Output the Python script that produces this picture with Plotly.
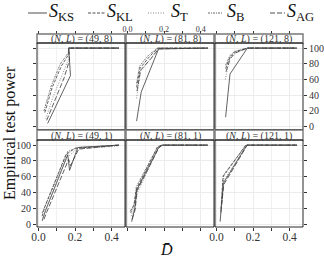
import plotly.graph_objects as go

# ---------------- data ----------------
panel_labels = ["(49, 8)", "(81, 8)", "(121, 8)", "(49, 1)", "(81, 1)", "(121, 1)"]
methods = ["KS", "KL", "T", "B", "AG"]

# (N,L) = (49,8)
KS_x_49_8 = [0.05, 0.175, 0.165, 0.44]
KS_y_49_8 = [4, 65, 100, 100]
KL_x_49_8 = [0.035, 0.075, 0.125, 0.165, 0.165, 0.44]
KL_y_49_8 = [18, 50, 77, 92, 100, 100]
T_x_49_8 = [0.04, 0.08, 0.13, 0.168, 0.165, 0.44]
T_y_49_8 = [10, 38, 66, 88, 100, 100]
B_x_49_8 = [0.03, 0.07, 0.12, 0.163, 0.165, 0.44]
B_y_49_8 = [20, 52, 80, 94, 100, 100]
AG_x_49_8 = [0.045, 0.09, 0.14, 0.17, 0.165, 0.44]
AG_y_49_8 = [8, 34, 62, 85, 100, 100]

# (N,L) = (81,8)
KS_x_81_8 = [0.05, 0.075, 0.17, 0.44]
KS_y_81_8 = [7, 44, 99, 100]
KL_x_81_8 = [0.05, 0.068, 0.12, 0.165, 0.44]
KL_y_81_8 = [50, 74, 89, 100, 100]
T_x_81_8 = [0.05, 0.07, 0.125, 0.168, 0.44]
T_y_81_8 = [36, 70, 86, 100, 100]
B_x_81_8 = [0.05, 0.066, 0.115, 0.165, 0.44]
B_y_81_8 = [55, 77, 91, 100, 100]
AG_x_81_8 = [0.052, 0.072, 0.13, 0.17, 0.44]
AG_y_81_8 = [45, 72, 87, 99, 100]

# (N,L) = (121,8)
KS_x_121_8 = [0.05, 0.074, 0.169, 0.44]
KS_y_121_8 = [12, 67, 100, 100]
KL_x_121_8 = [0.05, 0.074, 0.1, 0.169, 0.44]
KL_y_121_8 = [74, 89, 95, 100, 100]
T_x_121_8 = [0.048, 0.07, 0.095, 0.169, 0.44]
T_y_121_8 = [60, 85, 93, 100, 100]
B_x_121_8 = [0.05, 0.072, 0.1, 0.169, 0.44]
B_y_121_8 = [78, 90, 96, 100, 100]
AG_x_121_8 = [0.052, 0.076, 0.105, 0.169, 0.44]
AG_y_121_8 = [70, 87, 94, 100, 100]

# (N,L) = (49,1)
KS_x_49_1 = [0.02, 0.04, 0.16, 0.17, 0.215, 0.44]
KS_y_49_1 = [4, 18, 88, 68, 97, 100]
KL_x_49_1 = [0.02, 0.035, 0.15, 0.2, 0.44]
KL_y_49_1 = [10, 22, 88, 96, 100]
T_x_49_1 = [0.025, 0.04, 0.155, 0.21, 0.44]
T_y_49_1 = [8, 18, 84, 95, 99]
B_x_49_1 = [0.02, 0.035, 0.16, 0.215, 0.44]
B_y_49_1 = [14, 22, 92, 97, 100]
AG_x_49_1 = [0.03, 0.045, 0.165, 0.175, 0.22, 0.44]
AG_y_49_1 = [6, 15, 82, 74, 95, 100]

# (N,L) = (81,1)
KS_x_81_1 = [0.023, 0.04, 0.05, 0.17, 0.19, 0.44]
KS_y_81_1 = [3, 20, 43, 97, 100, 100]
KL_x_81_1 = [0.015, 0.035, 0.05, 0.165, 0.19, 0.44]
KL_y_81_1 = [16, 24, 45, 98, 100, 100]
T_x_81_1 = [0.02, 0.04, 0.055, 0.168, 0.19, 0.44]
T_y_81_1 = [10, 22, 40, 96, 100, 100]
B_x_81_1 = [0.018, 0.038, 0.048, 0.165, 0.19, 0.44]
B_y_81_1 = [14, 26, 47, 98, 100, 100]
AG_x_81_1 = [0.025, 0.042, 0.052, 0.17, 0.19, 0.44]
AG_y_81_1 = [6, 18, 42, 96, 100, 100]

# (N,L) = (121,1)
KS_x_121_1 = [0.02, 0.038, 0.166, 0.44]
KS_y_121_1 = [3, 52, 100, 100]
KL_x_121_1 = [0.025, 0.036, 0.16, 0.44]
KL_y_121_1 = [20, 60, 100, 100]
T_x_121_1 = [0.022, 0.04, 0.165, 0.44]
T_y_121_1 = [10, 55, 100, 100]
B_x_121_1 = [0.028, 0.038, 0.162, 0.44]
B_y_121_1 = [28, 62, 100, 100]
AG_x_121_1 = [0.024, 0.04, 0.168, 0.44]
AG_y_121_1 = [15, 50, 100, 100]

x_tickvals = [0.0, 0.2, 0.4]
x_ticktext = ["0.0", "0.2", "0.4"]
y_tickvals = [0, 20, 40, 60, 80, 100]
y_ticktext = ["0", "20", "40", "60", "80", "100"]

# ---------------- build table ----------------
g = globals()
panel_keys = ["49_8", "81_8", "121_8", "49_1", "81_1", "121_1"]
series = {}
for pk in panel_keys:
    for m in methods:
        series[(pk, m)] = (g[f"{m}_x_{pk}"], g[f"{m}_y_{pk}"])

styles = {
    "KS": dict(dash="solid", color="#3a3a3a", width=0.8),
    "KL": dict(dash="3px,1.5px", color="#3a3a3a", width=0.8),
    "T": dict(dash="1px,1.5px", color="#7a7a7a", width=0.8),
    "B": dict(dash="2px,1px,1px,1px", color="#555555", width=0.8),
    "AG": dict(dash="5px,2px", color="#3a3a3a", width=0.8),
}
leg_labels = {
    "KS": "<i>S</i><sub>KS</sub>",
    "KL": "<i>S</i><sub>KL</sub>",
    "T": "<i>S</i><sub>T</sub>",
    "B": "<i>S</i><sub>B</sub>",
    "AG": "<i>S</i><sub>AG</sub>",
}

W, H = 324, 258
FONT = "Liberation Serif, DejaVu Serif, serif"


def fx(px):
    return px / W


def fy(py):
    return 1 - py / H


cols = [(37, 125), (126, 214), (215, 303)]
rows = [(43, 129.5), (140, 227)]
strips = [(34, 43), (130, 140)]
xr = [-0.008, 0.473]
yr = [-3.7, 106.5]

fig = go.Figure()
layout = dict(
    width=W, height=H,
    margin=dict(l=0, r=0, t=0, b=0, autoexpand=False),
    paper_bgcolor="white", plot_bgcolor="white",
    showlegend=False,
    font=dict(family=FONT, color="#222"),
)
shapes = []
annotations = []

for k, pk in enumerate(panel_keys):
    r, c = divmod(k, 3)
    ax = k + 1
    xa = "x" if ax == 1 else f"x{ax}"
    ya = "y" if ax == 1 else f"y{ax}"
    for m in methods:
        xs, ys = series[(pk, m)]
        st = styles[m]
        fig.add_trace(go.Scatter(
            x=xs, y=ys, mode="lines", xaxis=xa, yaxis=ya, name=m,
            line=dict(color=st["color"], width=st["width"], dash=st["dash"]),
            hoverinfo="skip",
        ))
    x0, x1 = cols[c]
    y0, y1 = rows[r]
    xaxis = dict(
        domain=[fx(x0), fx(x1)], range=xr,
        tickvals=x_tickvals, ticktext=x_ticktext,
        showgrid=True, gridcolor="#ececec", gridwidth=0.6,
        zeroline=False, showline=False, automargin=False,
        ticks="outside", ticklen=3, tickwidth=0.6, tickcolor="#333",
        minor=dict(dtick=0.1, tick0=0, ticks="outside", ticklen=3, tickwidth=0.6,
                   tickcolor="#333", showgrid=True, gridcolor="#f1f1f1", gridwidth=0.5),
    )
    if r == 0:
        xaxis.update(side="top", anchor="free", position=fy(34),
                     showticklabels=(c == 1), ticklabelstandoff=-4,
                     tickfont=dict(family=FONT, size=8, color="#333"))
    else:
        xaxis.update(side="bottom", anchor=ya, showticklabels=(c != 1),
                     ticklabelstandoff=-4,
                     tickfont=dict(family=FONT, size=11.5, color="#333"))
    yaxis = dict(
        domain=[fy(y1), fy(y0)], range=yr, anchor=xa,
        tickvals=y_tickvals, ticktext=y_ticktext,
        showgrid=True, gridcolor="#ececec", gridwidth=0.6,
        zeroline=False, showline=False, automargin=False,
        tickfont=dict(family=FONT, size=10, color="#333"),
    )
    if c == 0:
        yaxis.update(side="left", ticks="outside", ticklen=3, tickwidth=0.6,
                     tickcolor="#333", showticklabels=(r == 1))
    elif c == 2:
        yaxis.update(side="right", ticks="outside", ticklen=3, tickwidth=0.6,
                     tickcolor="#333", showticklabels=(r == 0))
    else:
        yaxis.update(ticks="", showticklabels=False)
    layout["xaxis" if ax == 1 else f"xaxis{ax}"] = xaxis
    layout["yaxis" if ax == 1 else f"yaxis{ax}"] = yaxis

    # strip
    s0, s1 = strips[r]
    shapes.append(dict(type="rect", xref="paper", yref="paper",
                       x0=fx(x0), x1=fx(x1), y0=fy(s1), y1=fy(s0),
                       fillcolor="white", line=dict(color="#777", width=1.4),
                       layer="above"))
    nl = panel_labels[k]
    annotations.append(dict(
        xref="paper", yref="paper", x=fx((x0 + x1) / 2), y=fy((s0 + s1) / 2 + 0.5),
        text=f"(<i>N</i>, <i>L</i>) = {nl}", showarrow=False,
        xanchor="center", yanchor="middle",
        font=dict(family=FONT, size=10, color="#333333")))
    # panel border
    shapes.append(dict(type="rect", xref="paper", yref="paper",
                       x0=fx(x0), x1=fx(x1), y0=fy(y1), y1=fy(y0),
                       fillcolor="rgba(0,0,0,0)", line=dict(color="#111", width=0.9),
                       layer="above"))

# legend drawn manually (horizontal, compact)
leg_lines = {"KS": (28, 47), "KL": (88, 105), "T": (148, 164), "B": (208, 222), "AG": (270, 285)}
leg_text_x = {"KS": 47, "KL": 105, "T": 169, "B": 225, "AG": 285}
for m in methods:
    a, b = leg_lines[m]
    st = styles[m]
    shapes.append(dict(type="line", xref="paper", yref="paper",
                       x0=fx(a), x1=fx(b), y0=fy(13), y1=fy(13),
                       line=dict(color=st["color"], width=0.9, dash=st["dash"])))
    annotations.append(dict(
        xref="paper", yref="paper", x=fx(leg_text_x[m]), y=fy(13),
        text=leg_labels[m], showarrow=False, xanchor="left", yanchor="middle",
        font=dict(family=FONT, size=18, color="#111")))

# axis titles
annotations.append(dict(xref="paper", yref="paper", x=fx(10), y=fy(133),
                        text="Empirical test power", textangle=-90, showarrow=False,
                        xanchor="center", yanchor="middle",
                        font=dict(family=FONT, size=16, color="#111")))
annotations.append(dict(xref="paper", yref="paper", x=fx(166), y=fy(249),
                        text="<i>D\u0304</i>", showarrow=False,
                        xanchor="center", yanchor="middle",
                        font=dict(family=FONT, size=16, color="#111")))

layout["shapes"] = shapes
layout["annotations"] = annotations
fig.update_layout(**layout)
fig.write_html("out.html",
               config={"displayModeBar": False},
               post_script="document.body.style.margin='0px';"
                           "document.body.style.overflow='hidden';")
